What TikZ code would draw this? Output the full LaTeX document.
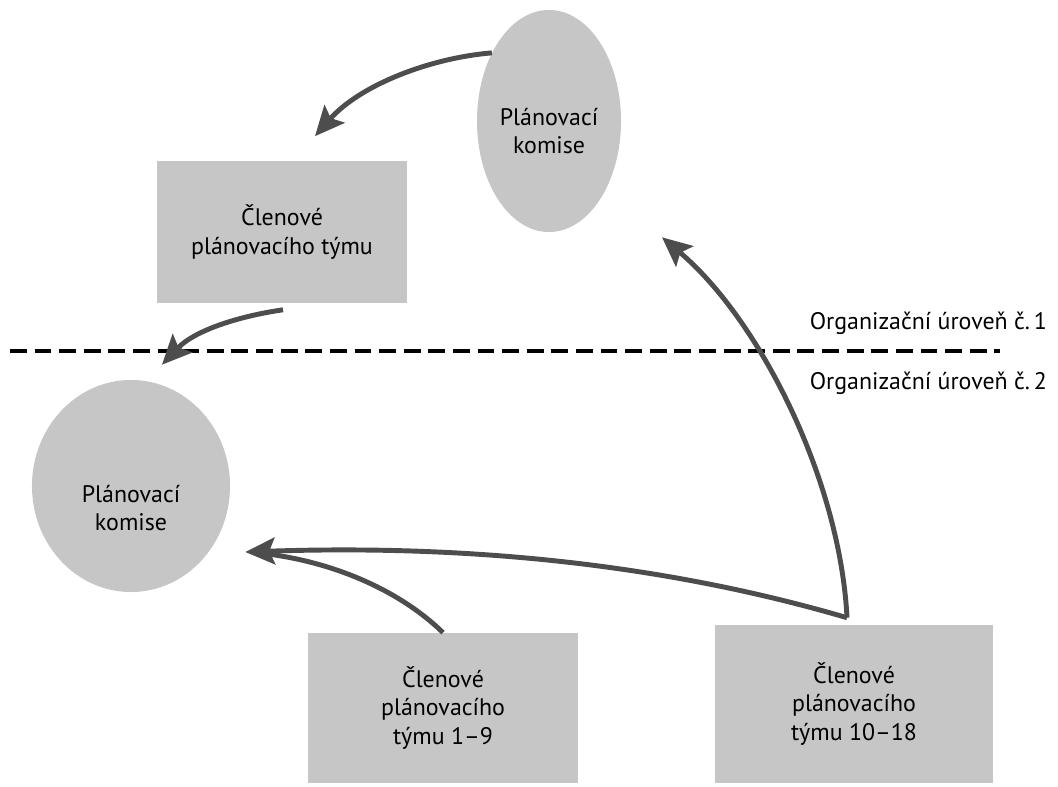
\documentclass[tikz,border=0pt]{standalone}
\usepackage{fontspec}
\setmainfont{PT Sans}
\usetikzlibrary{arrows.meta,shapes.geometric,calc}
\definecolor{boxgray}  {RGB}{198,198,198}
\definecolor{arrowgray}{RGB}{77,77,77}
\tikzset{
  teambox/.style={rectangle, fill=boxgray, align=center,
                  font=\fontsize{17}{20.5}\selectfont, inner sep=0pt},
  komise/.style ={ellipse, fill=boxgray, inner sep=0pt},
  txt/.style    ={align=center, font=\fontsize{17}{20.5}\selectfont},
  arr/.style    ={-{Stealth[length=21pt, width=19pt, inset=4pt]},
                  line width=3.5pt, draw=arrowgray},
  feed/.style   ={line width=3.5pt, draw=arrowgray},
  lvlline/.style={line width=2.2pt, dash pattern=on 12pt off 5.5pt},
}

\begin{document}
\begin{tikzpicture}[x=0.025cm, y=-0.025cm]
  \fill[white] (0,0) rectangle (1058,787);
  \useasboundingbox (0,0) rectangle (1058,787);

  % level 1
  \node[komise, minimum width=3.6cm, minimum height=5.55cm] (k1) at (549,121) {};
  \node[txt] (k1t) at (549,131) {Plánovací\\komise};
  \node[teambox, minimum width=6.25cm, minimum height=3.525cm] (tym) at (282,232)
        {Členové\\plánovacího týmu};

  % level 2
  \node[komise, minimum width=4.95cm, minimum height=5.3cm] (k2) at (131,486) {};
  \node[txt] (k2t) at (131,508) {Plánovací\\komise};
  \node[teambox, minimum width=6.75cm, minimum height=3.75cm] (t19) at (443,708)
        {Členové\\plánovacího\\týmu 1–9};
  \node[teambox, minimum width=6.95cm, minimum height=3.95cm] (t1018) at (854,704)
        {Členové\\plánovacího\\týmu 10–18};

  % boundary between levels
  \draw[lvlline] (10,351) -- (1000,351);
  \node[txt, anchor=east] (lvl1) at (1052,323) {Organizační úroveň č.\,1};
  \node[txt, anchor=east] (lvl2) at (1052,383) {Organizační úroveň č.\,2};

  \coordinate (fork) at ($(t1018.north)+(-7,-7)$);

  \draw[arr] (k1.130) .. controls (430,58) and (360,85) .. ($(tym.north)+(33,-25)$);
  \draw[arr] ($(tym.south)+(1,7)$) .. controls (240,316) and (195,330)
             .. ($(k2.north)+(31,-15)$);
  \draw[feed] (t19.north) .. controls (410,600) and (350,565) .. (268,554);
  \draw[arr] (fork) .. controls (650,560) and (450,545) .. ($(k2.east)+(15,66)$);
  \draw[arr] (fork) .. controls (840,480) and (760,320) .. ($(k1.south)+(113,5)$);
\end{tikzpicture}
\end{document}
